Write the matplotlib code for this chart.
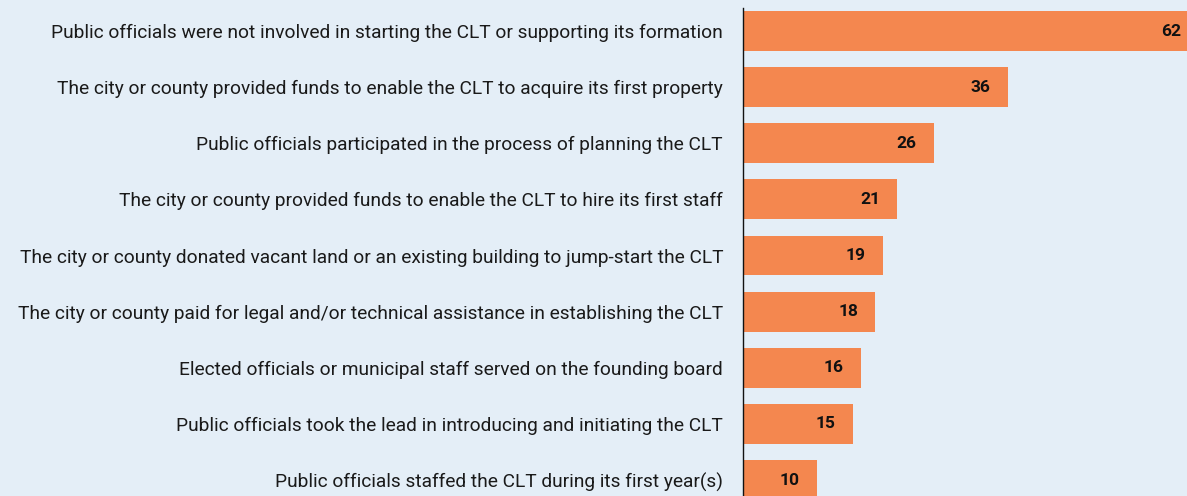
import matplotlib.pyplot as plt

labels = [
    "Public officials were not involved in starting the CLT or supporting its formation",
    "The city or county provided funds to enable the CLT to acquire its first property",
    "Public officials participated in the process of planning the CLT",
    "The city or county provided funds to enable the CLT to hire its first staff",
    "The city or county donated vacant land or an existing building to jump-start the CLT",
    "The city or county paid for legal and/or technical assistance in establishing the CLT",
    "Elected officials or municipal staff served on the founding board",
    "Public officials took the lead in introducing and initiating the CLT",
    "Public officials staffed the CLT during its first year(s)",
]
values = [62, 36, 26, 21, 19, 18, 16, 15, 10]

bg = "#E4EEF7"
bar_color = "#F4874F"

plt.rcParams['font.family'] = ['Roboto', 'DejaVu Sans']

fig = plt.figure(figsize=(11.87, 4.96), dpi=100)
fig.patch.set_facecolor(bg)
ax = fig.add_axes([743 / 1187, 0, 444 / 1187, 488 / 496])
ax.set_facecolor(bg)

pos = list(range(len(values)))
ax.barh(pos, values, height=0.71, color=bar_color)

for p, v in zip(pos, values):
    ax.annotate(str(v), xy=(v, p), xytext=(-12.5, 0), textcoords="offset points",
                ha="right", va="center", fontsize=12.5, fontweight="bold",
                color="#111111", annotation_clip=False)

ax.set_xlim(0, 60.4)
ax.set_ylim(8.285, -0.41)
ax.set_yticks(pos)
ax.set_yticklabels(labels, fontsize=13.8, color="#1a1a1a")
ax.tick_params(axis="y", length=0, pad=14.4)
ax.set_xticks([])
for s in ["top", "right", "bottom"]:
    ax.spines[s].set_visible(False)
ax.spines["left"].set_linewidth(1)
ax.spines["left"].set_color("#111111")

fig.savefig("out.png", dpi=100, facecolor=bg)
